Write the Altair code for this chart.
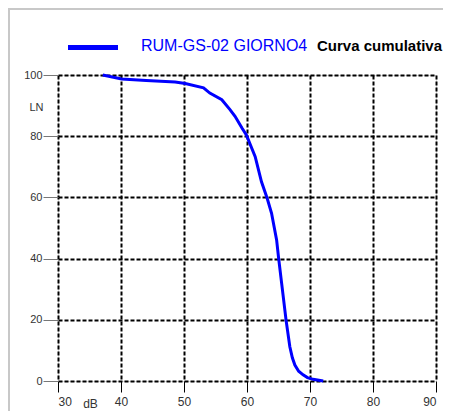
import altair as alt
import pandas as pd

# Cumulative curve
db = [37.1, 40.1, 44.0, 48.6, 50.2, 53.1, 54.1, 56.0, 57.3, 58.1, 59.2, 59.9,
      61.3, 62.3, 63.2, 63.9, 64.7, 65.0, 65.5, 66.2, 66.8, 67.2, 67.6, 68.2,
      68.9, 69.6, 70.5, 72.1]
ln = [100.0, 98.7, 98.2, 97.7, 97.2, 95.8, 94.1, 91.9, 88.7, 86.5, 82.7, 80.4,
      73.3, 65.1, 59.7, 54.8, 46.1, 40.5, 31.9, 19.9, 11.2, 7.6, 5.2, 3.2,
      2.0, 1.1, 0.55, 0.0]
series_name = "RUM-GS-02 GIORNO4"
legend_title = "Curva cumulativa"
x_ticks = [30, 40, 50, 60, 70, 80, 90]
y_ticks = [0, 20, 40, 60, 80, 100]

df = pd.DataFrame({"dB": db, "LN": ln, "order": list(range(len(db)))})

FONT = "Liberation Sans"

x_enc = alt.X(
    "dB:Q",
    scale=alt.Scale(domain=[30, 90], nice=False, zero=False),
    axis=alt.Axis(
        values=x_ticks, grid=True, gridDash=[4, 2], gridColor="black", gridWidth=2,
        gridOpacity=1, domain=False, ticks=True, tickSize=11, tickColor="black",
        tickWidth=1, labelFont=FONT, labelFontSize=12, labelColor="#333",
        labelPadding=4, title="dB", titleFont=FONT, titleFontSize=12,
        titleFontWeight="normal", titleColor="#333", titleX=32, titleY=22,
        titleAlign="center", titleBaseline="middle",
    ),
)
y_enc = alt.Y(
    "LN:Q",
    scale=alt.Scale(domain=[0, 100], nice=False),
    axis=alt.Axis(
        values=y_ticks, grid=True, gridDash=[4, 2], gridColor="black", gridWidth=2,
        gridOpacity=1, domain=False, ticks=True, tickSize=15, tickColor="#777",
        tickWidth=1, labelFont=FONT, labelFontSize=11, labelColor="#333",
        labelPadding=1, title="LN", titleFont=FONT, titleFontSize=11,
        titleFontWeight="normal", titleColor="#333", titleAngle=0,
        titleX=-15, titleY=32, titleAlign="right", titleBaseline="middle",
    ),
)

curve = alt.Chart(df).mark_line(color="#0000ff", strokeWidth=3, clip=False).encode(
    x=x_enc, y=y_enc, order="order:Q"
)

frame = alt.Chart(df).mark_rect(
    fill=None, stroke="#c8c8c8", strokeWidth=3, clip=False
).encode(
    x=alt.value(-49.5), x2=alt.value(600), y=alt.value(-66.5), y2=alt.value(600)
)

leg_line = alt.Chart(df).mark_rule(color="#0000ff", strokeWidth=4).encode(
    x=alt.value(10), x2=alt.value(60), y=alt.value(-27.5)
)

leg_df = pd.DataFrame({"t": [series_name]})
leg_text1 = alt.Chart(leg_df).mark_text(
    align="left", baseline="middle", font=FONT, fontSize=16, color="#0000ff"
).encode(x=alt.value(83), y=alt.value(-29.5), text="t:N")

leg_df2 = pd.DataFrame({"t": [legend_title]})
leg_text2 = alt.Chart(leg_df2).mark_text(
    align="left", baseline="middle", font=FONT, fontSize=15, fontWeight="bold",
    color="black"
).encode(x=alt.value(259), y=alt.value(-29.5), text="t:N")

chart = alt.layer(frame, curve, leg_line, leg_text1, leg_text2).properties(
    width=378, height=306,
    autosize=alt.AutoSizeParams(type="none"),
    padding={"left": 50, "top": 67, "right": 7, "bottom": 30},
).configure_view(stroke=None).configure(background="white")

chart.save("out.html", embed_options={"renderer": "svg", "actions": False})
